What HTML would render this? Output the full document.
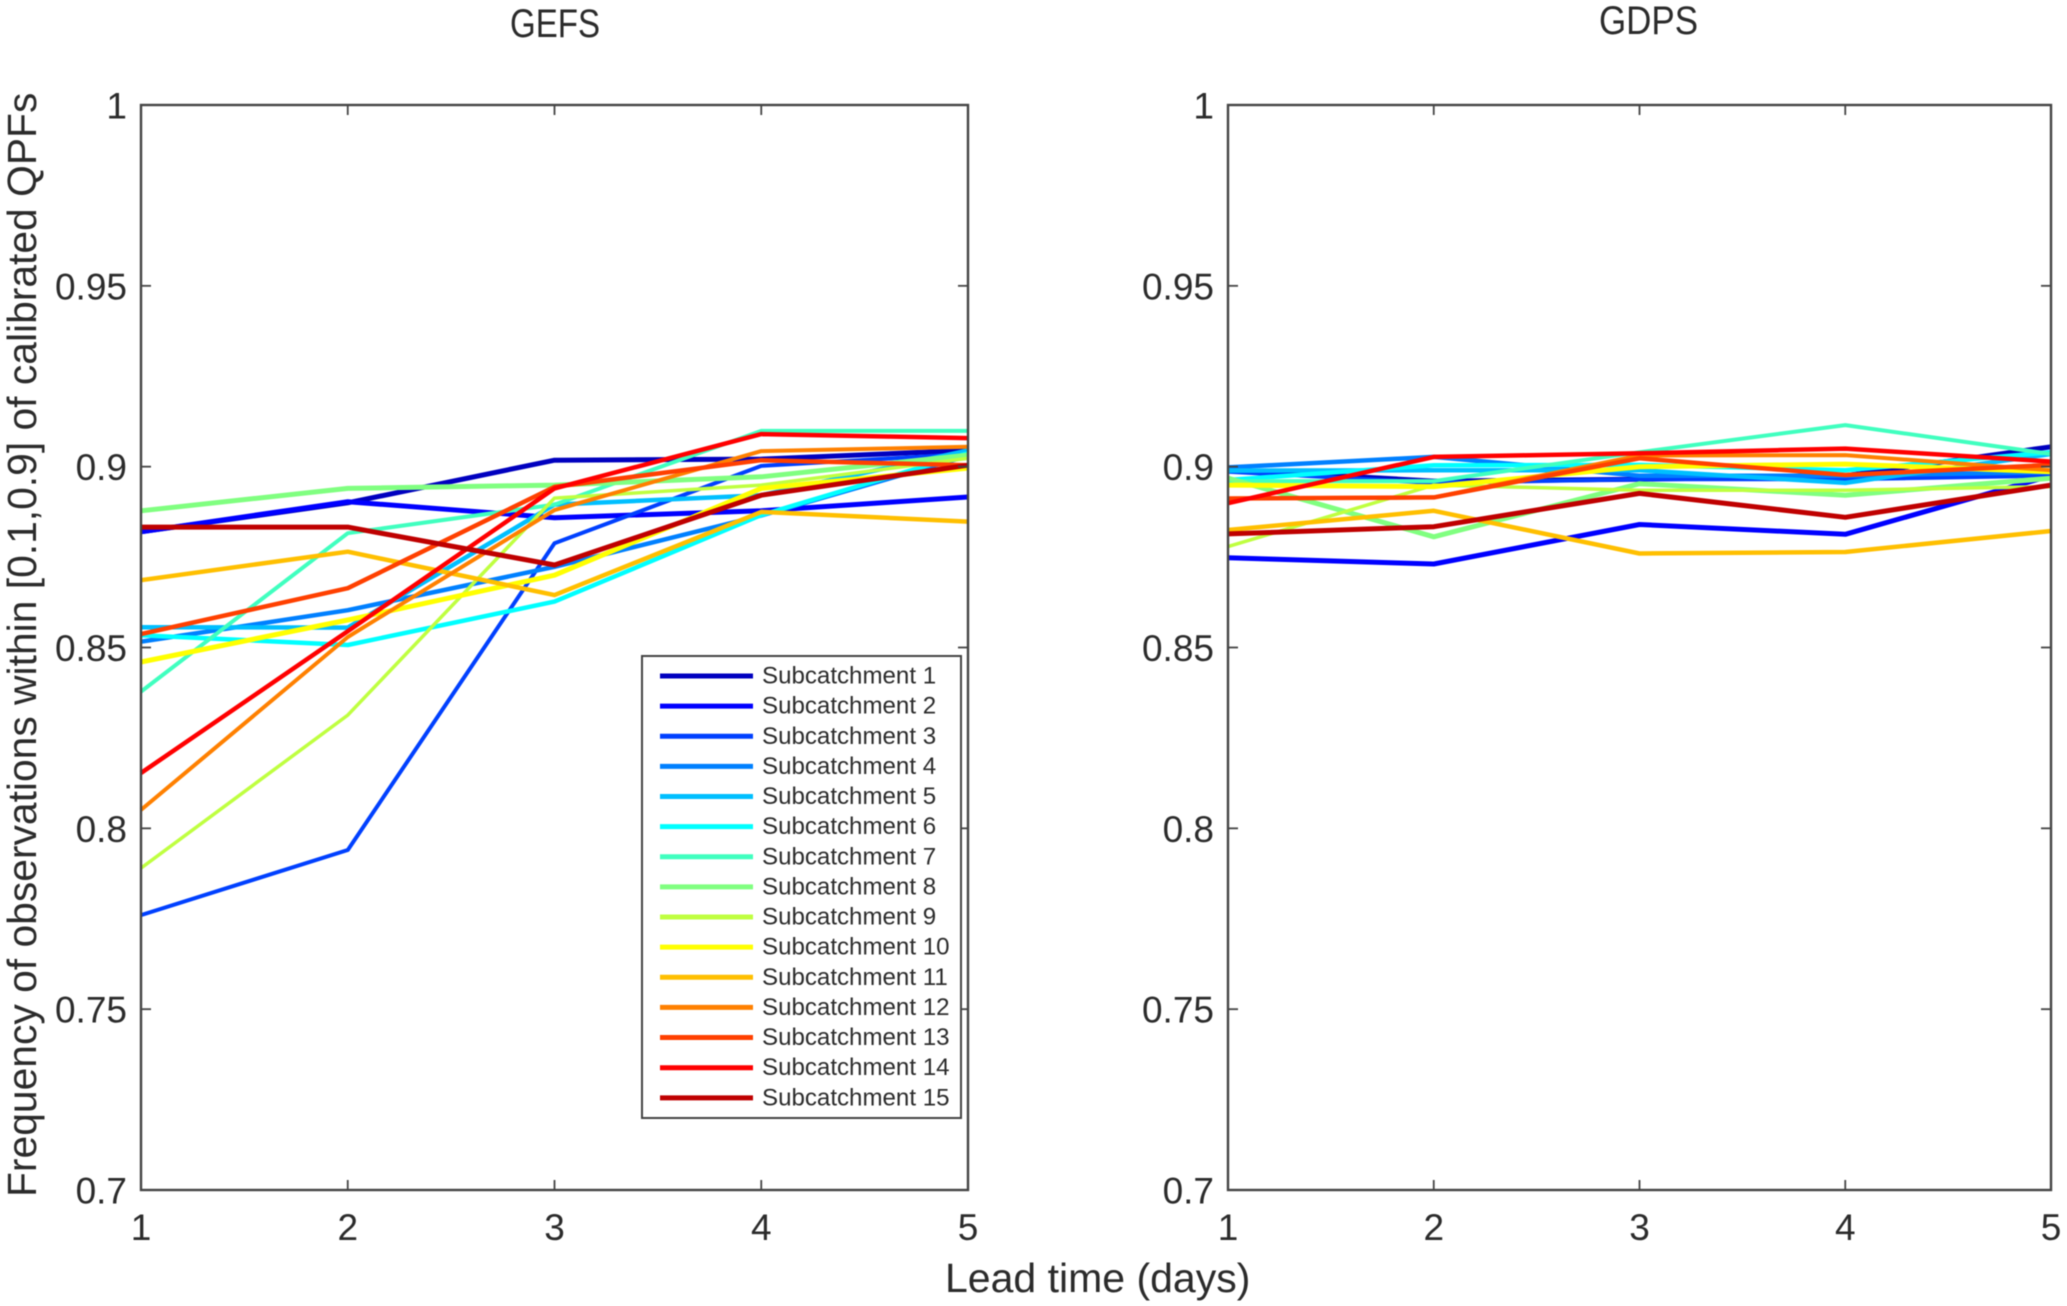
<!DOCTYPE html>
<html lang="en">
<head>
<meta charset="utf-8">
<title>GEFS and GDPS calibrated QPF frequency</title>
<style>
  html, body { margin: 0; padding: 0; background: #fff; width: 2067px; height: 1306px; overflow: hidden; }
  svg { display: block; filter: blur(0.45px); }
  text { font-family: "Liberation Sans", sans-serif; fill: #2b2b2b; }
</style>
</head>
<body>
<svg id="figure" xmlns="http://www.w3.org/2000/svg" width="2067" height="1306" viewBox="0 0 2067 1306">
  <text x="510" y="37" font-size="40" textLength="90" lengthAdjust="spacingAndGlyphs">GEFS</text>
  <text x="1599" y="34" font-size="40" textLength="99" lengthAdjust="spacingAndGlyphs">GDPS</text>
  <text transform="translate(36,1197) rotate(-90)" font-size="40.8">Frequency of observations within [0.1,0.9] of calibrated QPFs</text>
  <text x="945" y="1292" font-size="41">Lead time (days)</text>
  <g id="gefs-panel"></g>
  <g id="gdps-panel"></g>
  <g id="legend"></g>
</svg>
<script>
const leadTimes = [1, 2, 3, 4, 5];
const xTickLabels = ['1', '2', '3', '4', '5'];
const yTicks = [0.7, 0.75, 0.8, 0.85, 0.9, 0.95, 1];
const yTickLabels = ['0.7', '0.75', '0.8', '0.85', '0.9', '0.95', '1'];
const seriesNames = ['Subcatchment 1', 'Subcatchment 2', 'Subcatchment 3', 'Subcatchment 4', 'Subcatchment 5', 'Subcatchment 6', 'Subcatchment 7', 'Subcatchment 8', 'Subcatchment 9', 'Subcatchment 10', 'Subcatchment 11', 'Subcatchment 12', 'Subcatchment 13', 'Subcatchment 14', 'Subcatchment 15'];

const gefsValues = [
  [0.882, 0.8900, 0.9018, 0.9021, 0.9045],
  [0.882, 0.8903, 0.8859, 0.8878, 0.8916],
  [0.776, 0.7940, 0.8788, 0.9002, 0.9035],
  [0.8516, 0.8603, 0.8723, 0.8865, 0.9030],
  [0.8556, 0.8555, 0.8895, 0.8921, 0.9045],
  [0.8534, 0.8507, 0.8627, 0.8866, 0.9037],
  [0.8378, 0.8816, 0.8895, 0.9099, 0.9099],
  [0.8878, 0.8940, 0.8949, 0.8972, 0.9032],
  [0.7890, 0.8313, 0.8913, 0.8949, 0.9023],
  [0.8460, 0.8576, 0.8700, 0.8940, 0.8996],
  [0.8686, 0.8765, 0.8645, 0.8875, 0.8848],
  [0.8051, 0.8529, 0.8880, 0.9043, 0.9055],
  [0.8537, 0.8664, 0.8944, 0.9018, 0.9004],
  [0.8153, 0.8545, 0.8940, 0.9090, 0.9079],
  [0.8833, 0.8833, 0.8728, 0.8921, 0.9004]
];

const gdpsValues = [
  [0.8992, 0.8960, 0.8965, 0.8975, 0.9055],
  [0.8748, 0.8731, 0.8840, 0.8813, 0.8975],
  [0.8986, 0.8955, 0.8965, 0.8965, 0.8975],
  [0.8998, 0.9027, 0.8975, 0.8975, 0.8985],
  [0.8989, 0.8990, 0.8990, 0.8955, 0.9035],
  [0.8963, 0.9004, 0.9005, 0.8990, 0.9040],
  [0.8960, 0.8960, 0.9040, 0.9115, 0.9035],
  [0.8968, 0.8806, 0.8953, 0.8921, 0.8968],
  [0.8779, 0.8949, 0.8935, 0.8935, 0.8945],
  [0.8949, 0.8945, 0.9000, 0.9007, 0.8986],
  [0.8825, 0.8878, 0.8760, 0.8764, 0.8822],
  [0.8912, 0.8915, 0.9031, 0.9032, 0.8990],
  [0.8912, 0.8915, 0.9023, 0.8977, 0.9005],
  [0.8899, 0.9027, 0.9037, 0.9050, 0.9014],
  [0.8814, 0.8834, 0.8926, 0.8860, 0.8949]
];

const seriesColors = ['#0000bf', '#0000ff', '#0040ff', '#0080ff', '#00bfff', '#00ffff', '#40ffbf', '#80ff80', '#bfff40', '#ffff00', '#ffbf00', '#ff8000', '#ff4000', '#ff0000', '#bf0000'];
const seriesWidths = [5, 5, 4, 4.5, 4.5, 4.5, 4, 5, 3.5, 5, 4.5, 4, 4.5, 4.5, 5];

const NS = 'http://www.w3.org/2000/svg';
const AXIS_COLOR = '#444';

function make(tag, attrs, parent) {
  const node = document.createElementNS(NS, tag);
  for (const key in attrs) node.setAttribute(key, attrs[key]);
  parent.appendChild(node);
  return node;
}

function xScale(day, box) {
  return box.left + (day - leadTimes[0]) / (leadTimes[leadTimes.length - 1] - leadTimes[0]) * (box.right - box.left);
}

function yScale(value, box) {
  return box.bottom - (value - yTicks[0]) / (yTicks[yTicks.length - 1] - yTicks[0]) * (box.bottom - box.top);
}

function drawPanel(parent, box, values, prefix) {
  values.forEach(function (row, s) {
    const pts = row.map(function (v, i) {
      return xScale(leadTimes[i], box).toFixed(1) + ',' + yScale(v, box).toFixed(1);
    }).join(' ');
    const line = make('polyline', { points: pts, fill: 'none', stroke: seriesColors[s], 'stroke-width': seriesWidths[s], 'stroke-linejoin': 'round' }, parent);
    
    
  });

  const frame = make('rect', { x: box.left, y: box.top, width: box.right - box.left, height: box.bottom - box.top, fill: 'none', stroke: AXIS_COLOR, 'stroke-width': 2.4 }, parent);
  
  

  leadTimes.forEach(function (d, i) {
    const x = xScale(d, box);
    const tickB = make('line', { x1: x, x2: x, y1: box.bottom, y2: box.bottom - 10, stroke: AXIS_COLOR, 'stroke-width': 1.8 }, parent);
    
    
    const tickT = make('line', { x1: x, x2: x, y1: box.top, y2: box.top + 10, stroke: AXIS_COLOR, 'stroke-width': 1.8 }, parent);
    
    
    const label = make('text', { x: x, y: 1240, 'font-size': 37, 'text-anchor': 'middle' }, parent);
    
    
    label.textContent = xTickLabels[i];
  });

  yTicks.forEach(function (v, i) {
    const y = yScale(v, box);
    const tickL = make('line', { x1: box.left, x2: box.left + 10, y1: y, y2: y, stroke: AXIS_COLOR, 'stroke-width': 1.8 }, parent);
    
    
    const tickR = make('line', { x1: box.right, x2: box.right - 10, y1: y, y2: y, stroke: AXIS_COLOR, 'stroke-width': 1.8 }, parent);
    
    
    const label = make('text', { x: box.left - 14, y: y + 13.5, 'font-size': 37, 'text-anchor': 'end' }, parent);
    
    
    label.textContent = yTickLabels[i];
  });
}

drawPanel(document.getElementById('gefs-panel'), { left: 141, right: 968, top: 105, bottom: 1190 }, gefsValues, 'gefs');
drawPanel(document.getElementById('gdps-panel'), { left: 1228, right: 2051, top: 105, bottom: 1190 }, gdpsValues, 'gdps');

const legend = document.getElementById('legend');
const legendBox = make('rect', { x: 642, y: 656, width: 319, height: 462, fill: '#fff', stroke: AXIS_COLOR, 'stroke-width': 2 }, legend);



seriesNames.forEach(function (name, s) {
  const y = 676 + s * 30.13;
  const swatch = make('line', { x1: 660, x2: 753, y1: y, y2: y, stroke: seriesColors[s], 'stroke-width': 5 }, legend);
  
  
  const label = make('text', { x: 762, y: y + 7.5, 'font-size': 24.1 }, legend);
  
  
  label.textContent = name;
});
</script>
</body>
</html>
